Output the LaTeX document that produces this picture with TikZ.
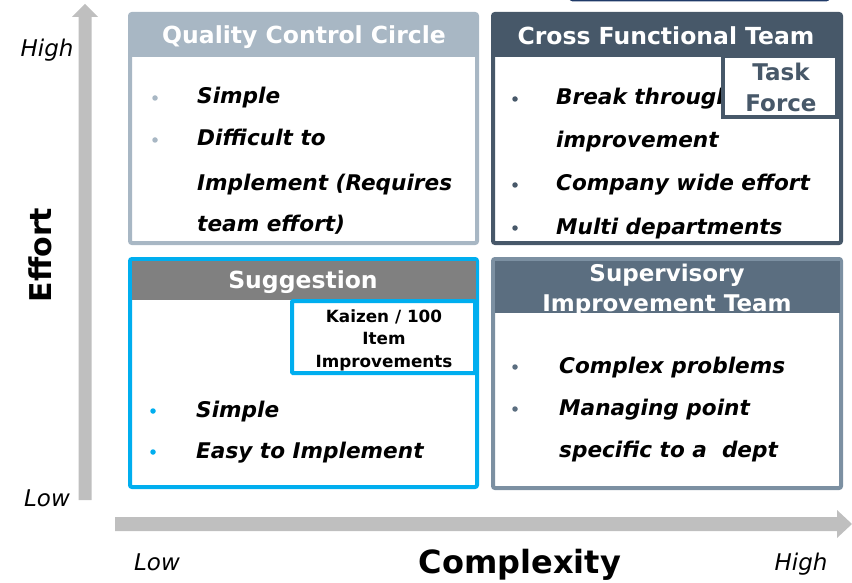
\documentclass[tikz,border=0pt]{standalone}
\usepackage{fontspec}
\setmainfont{DejaVu Sans}

\definecolor{qccgray}{HTML}{A8B7C4}
\definecolor{cftslate}{HTML}{475869}
\definecolor{sugcyan}{HTML}{00AEEF}
\definecolor{sugbar}{HTML}{808080}
\definecolor{sitslate}{HTML}{5B6E80}
\definecolor{sitedge}{HTML}{7C90A2}
\definecolor{axisgray}{HTML}{BFBFBF}
\definecolor{topnavy}{HTML}{1F3A68}

\tikzset{
  item/.style={anchor=base west, inner sep=0pt, font=\fontsize{21.6}{22}\selectfont\bfseries\itshape},
  head/.style={anchor=base, inner sep=0pt, text=white, font=\fontsize{23.5}{23.5}\selectfont\bfseries},
  dot/.style={circle, inner sep=0pt, minimum size=5.5pt},
  ends/.style={anchor=base, inner sep=0pt, font=\fontsize{23}{23}\selectfont\itshape},
}

\begin{document}
\begin{tikzpicture}[x=1pt,y=-1pt]
        \useasboundingbox (0,0) rectangle (852,583);

        % axes
        \fill [axisgray] (78.5,500) -- (78.5,17) -- (72,17) -- (85,4) -- (98,17) -- (91.5,17) -- (91.5,500) -- cycle;
        \fill [axisgray] (115,517) -- (837,517) -- (837,510) -- (852,524) -- (837,538) -- (837,531) -- (115,531) -- cycle;

        \node [ends] (effhigh) at (47,57) {High};
        \node [ends] (efflow) at (47,506) {Low};
        \node [ends] (cpxlow) at (157,570) {Low};
        \node [ends] (cpxhigh) at (801,570) {High};
        \node [rotate=90, font=\fontsize{30}{30}\selectfont\bfseries] (effort) at (40,255) {Effort};
        \node [anchor=base, inner sep=0pt, font=\fontsize{32}{32}\selectfont\bfseries] (complexity) at (520,573) {Complexity};

        % box cut off at the top
        \draw [topnavy, line width=2pt, rounded corners=3pt] (570,-30) rectangle (829,0.5);

        % quality control circle
        \draw [qccgray, line width=4pt, fill=white, rounded corners=2pt] (130,14) rectangle (477,243);
        \fill [qccgray] (130,14) rectangle (477,57);
        \node [head] (qcctitle) at (304,44) {Quality Control Circle};
        \node [dot, fill=qccgray] (qccdot1) at (155,98) {};
        \node [dot, fill=qccgray] (qccdot2) at (155,140) {};
        \node [item] (qccitem1) at (197,104) {Simple};
        \node [item] (qccitem2) at (197,146) {Difficult to};
        \node [item] (qccitem3) at (197,190) {Implement (Requires};
        \node [item] (qccitem4) at (197,232) {team effort)};

        % cross functional team
        \draw [cftslate, line width=4pt, fill=white, rounded corners=2pt] (493,14) rectangle (841,243);
        \fill [cftslate] (493,14) rectangle (841,57);
        \node [head] (cfttitle) at (666,45) {Cross Functional Team};
        \node [dot, fill=cftslate] (cftdot1) at (515,99) {};
        \node [dot, fill=cftslate] (cftdot2) at (515,185) {};
        \node [dot, fill=cftslate] (cftdot3) at (515,228) {};
        \node [item] (cftitem1) at (556,105) {Break through};
        \node [item] (cftitem2) at (556,148) {improvement};
        \node [item] (cftitem3) at (556,191) {Company wide effort};
        \node [item] (cftitem4) at (556,234) {Multi departments};
        \draw [cftslate, line width=3.5pt, fill=white] (723,56) rectangle (837,117);
        \node [anchor=base, inner sep=0pt, text=cftslate, align=center,
               font=\fontsize{23}{31}\selectfont\bfseries] (taskforce) at (781,112) {Task\\Force};

        % suggestion
        \draw [sugcyan, line width=4pt, fill=white, rounded corners=2pt] (130,259) rectangle (477,487);
        \fill [sugbar] (131.5,260.5) rectangle (475.5,300);
        \node [head] (sugtitle) at (303,288) {Suggestion};
        \draw [sugcyan, line width=4pt, fill=white, rounded corners=1pt] (292,301) rectangle (475,373);
        \node [anchor=base, inner sep=0pt, align=center,
               font=\fontsize{16.8}{22.5}\selectfont\bfseries] (kaizen) at (384,367) {Kaizen / 100\\Item\\Improvements};
        \node [dot, fill=sugcyan] (sugdot1) at (153,411) {};
        \node [dot, fill=sugcyan] (sugdot2) at (153,452) {};
        \node [item] (sugitem1) at (196,417) {Simple};
        \node [item] (sugitem2) at (196,458) {Easy to Implement};

        % supervisory improvement team
        \draw [sitedge, line width=4pt, fill=white, rounded corners=2pt] (493,259) rectangle (841,488);
        \fill [sitslate] (494.5,260.5) rectangle (839.5,313);
        \begin{scope}
          \clip (494.5,260.5) rectangle (839.5,313);
          \node [head, align=center, font=\fontsize{23}{30}\selectfont\bfseries] (sittitle) at (667,311) {Supervisory\\Improvement Team};
        \end{scope}
        \node [dot, fill=sitslate] (sitdot1) at (515,367) {};
        \node [dot, fill=sitslate] (sitdot2) at (515,409) {};
        \node [item] (sititem1) at (559,373) {Complex problems};
        \node [item] (sititem2) at (559,415) {Managing point};
        \node [item] (sititem3) at (559,457) {specific to a\ \ dept};
\end{tikzpicture}
\end{document}
